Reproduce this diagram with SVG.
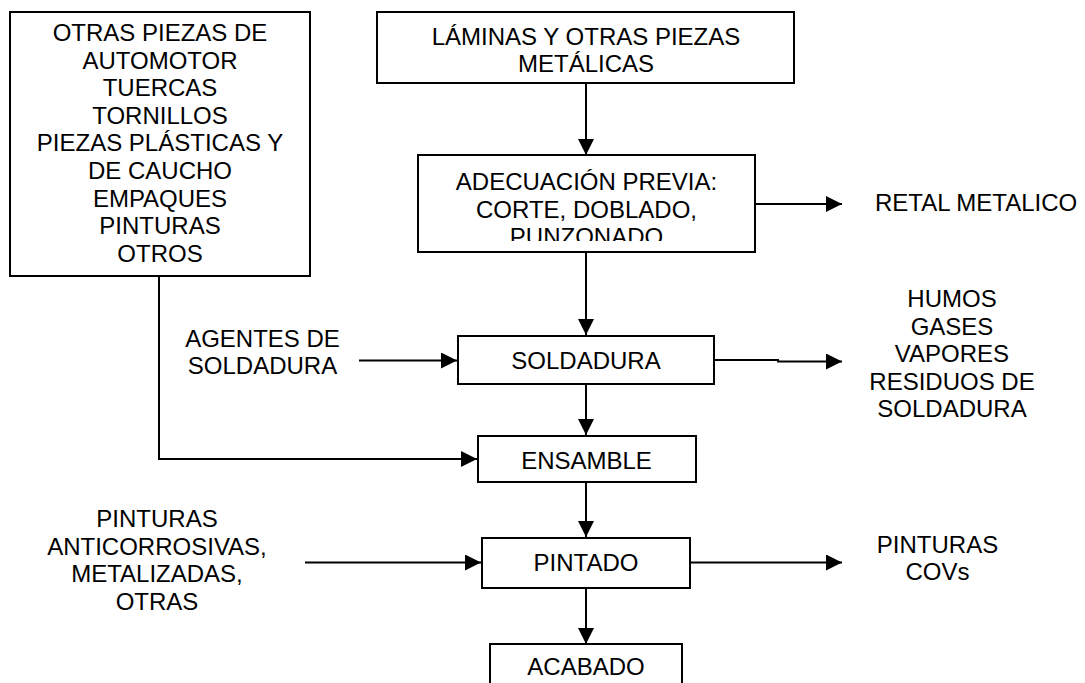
<svg xmlns="http://www.w3.org/2000/svg" width="1085" height="683" viewBox="0 0 1085 683">
<style>
.box{fill:#fff;stroke:#000;stroke-width:2}
.t{font-family:"Liberation Sans",Arial,sans-serif;font-size:24px;fill:#000;text-anchor:middle}
.tl{font-family:"Liberation Sans",Arial,sans-serif;font-size:24px;fill:#000;text-anchor:start}
.c{fill:none;stroke:#000;stroke-width:2}
</style>
<defs>
<marker id="ah" viewBox="0 0 16 16" refX="16" refY="8" markerWidth="16" markerHeight="16" markerUnits="userSpaceOnUse" orient="auto">
<path d="M0,0 L16,8 L0,16 Z" fill="#000"/>
</marker>
<clipPath id="clipAdec"><rect x="419" y="157" width="335" height="84"/></clipPath>
</defs>
<rect width="1085" height="683" fill="#fff"/>
<g id="connectors">
<path class="c" d="M586,83 V155" marker-end="url(#ah)"/>
<path class="c" d="M755,204 H842" marker-end="url(#ah)"/>
<path class="c" d="M586,252 V335" marker-end="url(#ah)"/>
<path class="c" d="M359,360.5 H457" marker-end="url(#ah)"/>
<path class="c" d="M714,360 H778 V361.5 H842" marker-end="url(#ah)"/>
<path class="c" d="M586,384 V435" marker-end="url(#ah)"/>
<path class="c" d="M159,276 V459 H477" marker-end="url(#ah)"/>
<path class="c" d="M586,482 V537" marker-end="url(#ah)"/>
<path class="c" d="M305,562.5 H481" marker-end="url(#ah)"/>
<path class="c" d="M690,562.5 H842" marker-end="url(#ah)"/>
<path class="c" d="M586,588 V644" marker-end="url(#ah)"/>
</g>
<g id="otras-piezas">
<rect class="box" x="10" y="12" width="300" height="264"/>
<text class="t" x="160" y="41">OTRAS PIEZAS DE</text>
<text class="t" x="160" y="68.6">AUTOMOTOR</text>
<text class="t" x="160" y="96.2">TUERCAS</text>
<text class="t" x="160" y="123.8">TORNILLOS</text>
<text class="t" x="160" y="151.4">PIEZAS PLÁSTICAS Y</text>
<text class="t" x="160" y="179">DE CAUCHO</text>
<text class="t" x="160" y="206.6">EMPAQUES</text>
<text class="t" x="160" y="234.2">PINTURAS</text>
<text class="t" x="160" y="262">OTROS</text>
</g>
<g id="laminas">
<rect class="box" x="377" y="12" width="417" height="71"/>
<text class="t" x="586" y="44.5">LÁMINAS Y OTRAS PIEZAS</text>
<text class="t" x="586" y="72">METÁLICAS</text>
</g>
<g id="adecuacion">
<rect class="box" x="418" y="155" width="337" height="97"/>
<g clip-path="url(#clipAdec)">
<text class="t" x="586.5" y="189.5">ADECUACIÓN PREVIA:</text>
<text class="t" x="586.5" y="217.5">CORTE, DOBLADO,</text>
<text class="t" x="586.5" y="245">PUNZONADO</text>
</g>
</g>
<g id="retal">
<text class="tl" x="875" y="211">RETAL METALICO</text>
</g>
<g id="agentes">
<text class="t" x="262.5" y="347">AGENTES DE</text>
<text class="t" x="262.5" y="374">SOLDADURA</text>
</g>
<g id="soldadura">
<rect class="box" x="458" y="336" width="256" height="48"/>
<text class="t" x="586" y="369">SOLDADURA</text>
</g>
<g id="humos">
<text class="t" x="952" y="307">HUMOS</text>
<text class="t" x="952" y="334.5">GASES</text>
<text class="t" x="952" y="362">VAPORES</text>
<text class="t" x="952" y="389.5">RESIDUOS DE</text>
<text class="t" x="952" y="417">SOLDADURA</text>
</g>
<g id="ensamble">
<rect class="box" x="478" y="436" width="218" height="46"/>
<text class="t" x="586.5" y="468.5">ENSAMBLE</text>
</g>
<g id="pinturas-in">
<text class="t" x="157" y="527">PINTURAS</text>
<text class="t" x="157" y="554.5">ANTICORROSIVAS,</text>
<text class="t" x="157" y="582">METALIZADAS,</text>
<text class="t" x="157" y="609.5">OTRAS</text>
</g>
<g id="pintado">
<rect class="box" x="482" y="538" width="208" height="50"/>
<text class="t" x="586" y="571">PINTADO</text>
</g>
<g id="pinturas-out">
<text class="t" x="937.5" y="552.5">PINTURAS</text>
<text class="t" x="937.5" y="579.5">COVs</text>
</g>
<g id="acabado">
<rect class="box" x="490" y="644" width="192" height="60"/>
<text class="t" x="586" y="675">ACABADO</text>
</g>
</svg>
